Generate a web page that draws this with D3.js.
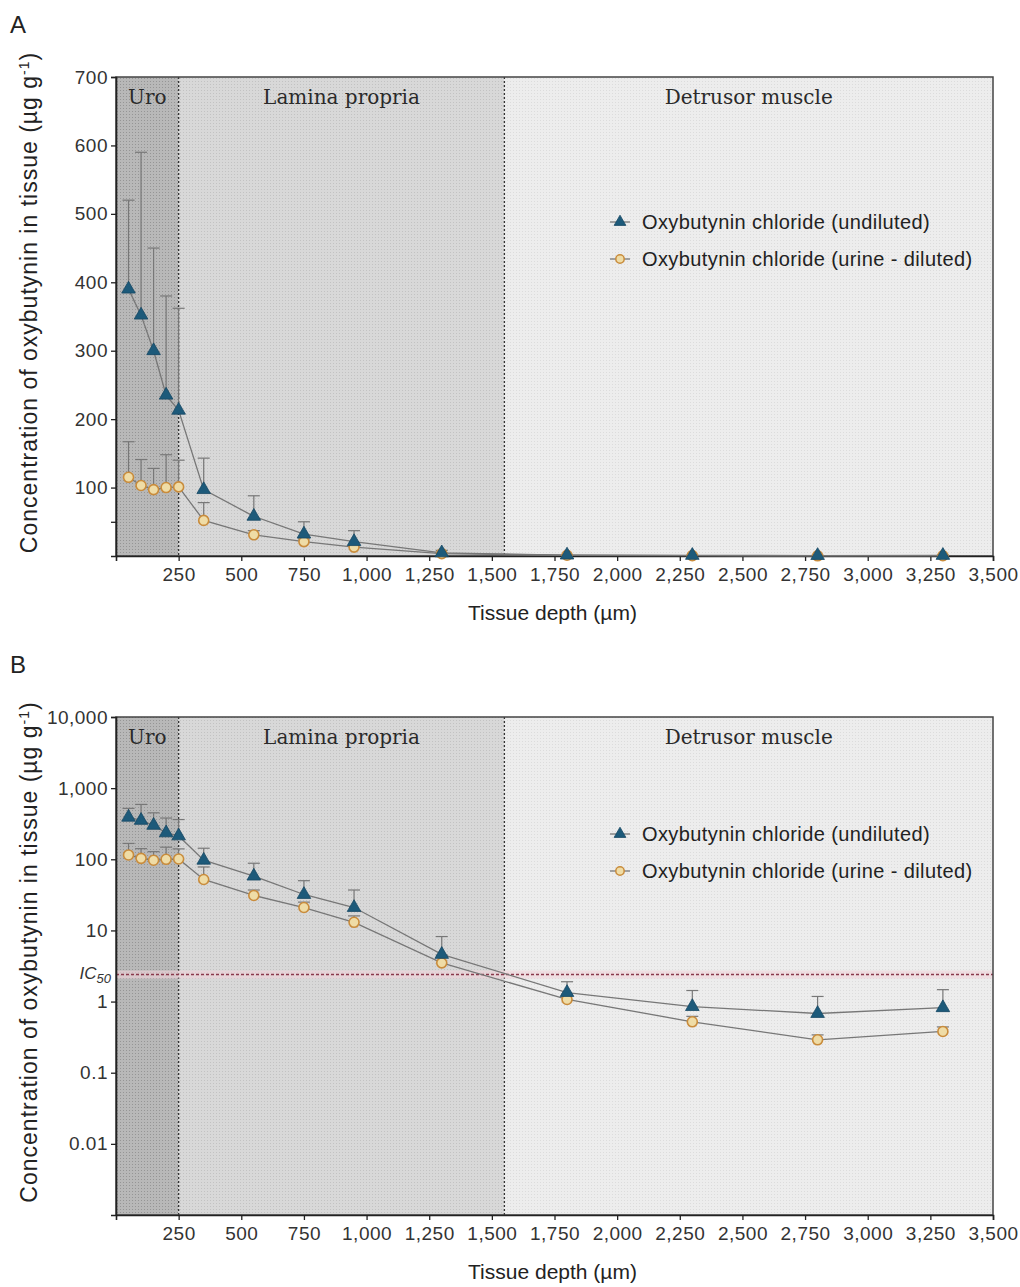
<!DOCTYPE html>
<html>
<head>
<meta charset="utf-8">
<script src="https://cdn.jsdelivr.net/npm/d3@7"></script>
<style>
  body { margin: 0; background: #fff; }
  svg text { font-family: "Liberation Sans", Arial, sans-serif; }
</style>
</head>
<body>
<div id="chart"></div>
<script>
// tissue depth (µm) of each slice
var depths = [50, 100, 150, 200, 250, 350, 550, 750, 950, 1300, 1800, 2300, 2800, 3300];
// mean concentration (µg/g) and upper SD
var undiluted   = [390, 352, 300, 235, 213, 97, 58, 32, 21, 4.6, 1.34, 0.85, 0.68, 0.82];
var undilutedSD = [130, 238, 150, 145, 149, 46, 30, 18, 16, 3.6, 0.56, 0.58, 0.5, 0.65];
var diluted     = [115, 103, 97, 100, 101, 52, 31, 21, 13, 3.5, 1.07, 0.52, 0.29, 0.38];
var dilutedSD   = [52, 38, 31, 48, 39, 26, 6, 4, 3, 1, 0.2, 0.1, 0.05, 0.06];
var seriesNames = ["Oxybutynin chloride (undiluted)", "Oxybutynin chloride (urine - diluted)"];
// tissue layers
var layerNames = ["Uro", "Lamina propria", "Detrusor muscle"];
var layerBounds = [0, 250, 1550, 3500];
var xTicks = [250, 500, 750, 1000, 1250, 1500, 1750, 2000, 2250, 2500, 2750, 3000, 3250, 3500];
var yTicksA = [50, 100, 200, 300, 400, 500, 600, 700];
var yTicksB = [0.01, 0.1, 1, 10, 100, 1000, 10000];
var ic50 = 2.4;

var W = 1020, H = 1287;
var svg = d3.select("#chart").append("svg")
    .attr("width", W)
    .attr("height", H);

var defs = svg.append("defs");
var layerFill = ["#b8b8b8", "#d8d8d8", "#ededed"];
var layerDot = ["#959595", "#c2c2c2", "#dcdcdc"];
layerFill.forEach(function (c, i) {
    var p = defs.append("pattern")
        .attr("id", "pat" + i)
        .attr("width", 3).attr("height", 3)
        .attr("patternUnits", "userSpaceOnUse");
    p.append("rect").attr("width", 3).attr("height", 3).attr("fill", c);
    p.append("rect").attr("width", 1).attr("height", 1).attr("fill", layerDot[i]);
});

var left = 116, right = 993;
var x = d3.scaleLinear().domain([0, 3500]).range([left, right]);
var fmtComma = d3.format(",");

var colUnd = "#1d5a7a", colDil = "#c98c3c";

function drawPanel(top, bottom, y, yTicks, yFmt, legendY, letter, showIC50) {
    var g = svg.append("g");

    // panel letter
    g.append("text")
        .attr("x", 10).attr("y", top - 44)
        .style("font-size", "24px")
        .style("fill", "#222")
        .text(letter);

    // layer backgrounds
    layerNames.forEach(function (name, i) {
        g.append("rect")
            .attr("x", x(layerBounds[i]))
            .attr("y", top)
            .attr("width", x(layerBounds[i + 1]) - x(layerBounds[i]))
            .attr("height", bottom - top)
            .attr("fill", "url(#pat" + i + ")");
        g.append("text")
            .attr("x", (x(layerBounds[i]) + x(layerBounds[i + 1])) / 2)
            .attr("y", top + 27)
            .attr("text-anchor", "middle")
            .style("font-family", "'DejaVu Serif', serif")
            .style("font-size", "20px")
            .style("fill", "#2a2a2a")
            .text(name);
    });

    // dashed layer borders
    [layerBounds[1], layerBounds[2]].forEach(function (b) {
        g.append("line")
            .attr("x1", x(b)).attr("x2", x(b))
            .attr("y1", top).attr("y2", bottom)
            .attr("stroke", "#333")
            .attr("stroke-width", 1.3)
            .attr("stroke-dasharray", "2,2");
    });

    // IC50 line
    if (showIC50) {
        g.append("rect")
            .attr("x", left).attr("y", y(ic50) - 4)
            .attr("width", right - left).attr("height", 8)
            .attr("fill", "#f2d3da").attr("opacity", 0.6);
        g.append("line")
            .attr("x1", left).attr("x2", right)
            .attr("y1", y(ic50)).attr("y2", y(ic50))
            .attr("stroke", "#8a3a4c")
            .attr("stroke-width", 1.6)
            .attr("stroke-dasharray", "3,2");
        var t = g.append("text")
            .attr("x", left - 5).attr("y", y(ic50) + 4)
            .attr("text-anchor", "end")
            .style("font-size", "17px")
            .style("font-style", "italic")
            .style("fill", "#333");
        t.append("tspan").text("IC");
        t.append("tspan").attr("dy", 4).style("font-size", "13px").text("50");
    }

    // frame
    g.append("rect")
        .attr("x", left).attr("y", top)
        .attr("width", right - left).attr("height", bottom - top)
        .attr("fill", "none")
        .attr("stroke", "#444")
        .attr("stroke-width", 1.5);

    // axes
    var xAxis = g.append("g")
        .attr("transform", "translate(0," + bottom + ")")
        .call(d3.axisBottom(x).tickValues(xTicks).tickFormat(fmtComma).tickSize(5));
    var yAxis = g.append("g")
        .attr("transform", "translate(" + left + ",0)")
        .call(d3.axisLeft(y).tickValues(yTicks).tickFormat(yFmt).tickSize(5));
    [xAxis, yAxis].forEach(function (a) {
        a.select(".domain").attr("stroke", "#222").attr("stroke-width", 1.6);
        a.selectAll(".tick line").attr("stroke", "#222").attr("stroke-width", 1.3);
        a.selectAll("text").style("font-size", "19px").style("fill", "#333")
            .style("letter-spacing", "0.5px")
            .style("font-family", "'Liberation Sans', Arial, sans-serif");
    });
    xAxis.selectAll("text").attr("dy", "0.9em");

    // axis titles
    g.append("text")
        .attr("x", (left + right) / 2 - 2)
        .attr("y", bottom + 64)
        .attr("text-anchor", "middle")
        .style("font-size", "21px")
        .style("fill", "#222")
        .text("Tissue depth (\u00b5m)");
    var yt = g.append("text")
        .attr("transform", "translate(37," + ((top + bottom) / 2 - 14) + ") rotate(-90)")
        .attr("text-anchor", "middle")
        .style("font-size", "23px")
        .style("letter-spacing", "1px")
        .style("fill", "#222");
    yt.append("tspan").text("Concentration of oxybutynin in tissue (\u00b5g g");
    yt.append("tspan").attr("dy", -8).style("font-size", "14px").text("-1");
    yt.append("tspan").attr("dy", 8).text(")");

    // series
    var yMin = y.domain()[0];
    function yv(v) { return y(Math.max(v, yMin)); }
    var series = [
        { vals: diluted, sd: dilutedSD, col: colDil },
        { vals: undiluted, sd: undilutedSD, col: colUnd }
    ];
    var line = d3.line()
        .x(function (d) { return x(d[0]); })
        .y(function (d) { return yv(d[1]); });

    series.forEach(function (s) {
        var pts = depths.map(function (d, i) { return [d, s.vals[i], s.sd[i]]; });
        g.append("path")
            .datum(pts)
            .attr("d", line)
            .attr("fill", "none")
            .attr("stroke", "#777")
            .attr("stroke-width", 1.3);
        var eb = g.append("g").selectAll("g").data(pts).enter().append("g");
        eb.append("line")
            .attr("x1", function (d) { return x(d[0]); })
            .attr("x2", function (d) { return x(d[0]); })
            .attr("y1", function (d) { return yv(d[1]); })
            .attr("y2", function (d) { return yv(d[1] + d[2]); })
            .attr("stroke", "#777").attr("stroke-width", 1.2);
        eb.append("line")
            .attr("x1", function (d) { return x(d[0]) - 6; })
            .attr("x2", function (d) { return x(d[0]) + 6; })
            .attr("y1", function (d) { return yv(d[1] + d[2]); })
            .attr("y2", function (d) { return yv(d[1] + d[2]); })
            .attr("stroke", "#777").attr("stroke-width", 1.2);
    });

    // markers
    g.append("g").selectAll("circle")
        .data(depths.map(function (d, i) { return [d, diluted[i]]; }))
        .enter().append("circle")
        .attr("cx", function (d) { return x(d[0]); })
        .attr("cy", function (d) { return yv(d[1]); })
        .attr("r", 5)
        .attr("fill", "#efdca6")
        .attr("stroke", colDil)
        .attr("stroke-width", 1.6);
    g.append("g").selectAll("path")
        .data(depths.map(function (d, i) { return [d, undiluted[i]]; }))
        .enter().append("path")
        .attr("d", d3.symbol().type(d3.symbolTriangle).size(80))
        .attr("transform", function (d) { return "translate(" + x(d[0]) + "," + yv(d[1]) + ")"; })
        .attr("fill", colUnd)
        .attr("stroke", "#174863")
        .attr("stroke-width", 0.8);

    // legend
    var lg = g.append("g").attr("transform", "translate(620," + legendY + ")");
    seriesNames.forEach(function (n, i) {
        var row = lg.append("g").attr("transform", "translate(0," + (i * 37) + ")");
        row.append("line").attr("x1", -10).attr("x2", 10).attr("stroke", "#777").attr("stroke-width", 1.3);
        if (i === 0) {
            row.append("path")
                .attr("d", d3.symbol().type(d3.symbolTriangle).size(60))
                .attr("fill", colUnd).attr("stroke", "#174863").attr("stroke-width", 0.8);
        } else {
            row.append("circle").attr("r", 4.2)
                .attr("fill", "#efdca6").attr("stroke", colDil).attr("stroke-width", 1.5);
        }
        row.append("text")
            .attr("x", 22).attr("y", 7)
            .style("font-size", "20px")
            .style("letter-spacing", "0.4px")
            .style("fill", "#222")
            .text(n);
    });
}

// Panel A: linear
var yA = d3.scaleLinear().domain([0, 700]).range([556, 77]);
drawPanel(77, 556, yA, yTicksA, function (d) { return d === 50 ? "" : d; }, 222, "A", false);

// Panel B: log
var yB = d3.scaleLog().domain([0.001, 10000]).range([1215, 717]);
var fmtB = function (d) { return d >= 1 ? fmtComma(d) : String(d); };
drawPanel(717, 1215, yB, yTicksB, fmtB, 834, "B", true);
</script>
</body>
</html>
